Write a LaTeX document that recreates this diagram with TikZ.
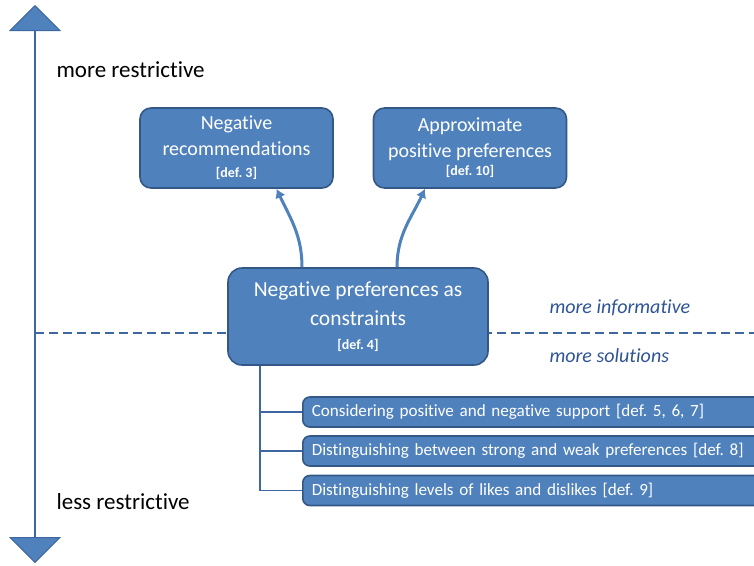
\documentclass[tikz,border=0pt]{standalone}
\usepackage{fontspec}
\setmainfont{Carlito}[Ligatures=NoCommon]
\usetikzlibrary{arrows.meta,positioning}
\definecolor{boxblue}{RGB}{79,129,189}
\definecolor{boxedge}{RGB}{52,88,134}
\definecolor{axisblue}{RGB}{62,102,160}
\definecolor{noteblue}{RGB}{47,84,150}
\newcommand{\defnotefont}{\fontsize{14}{16}\selectfont\bfseries}
\frenchspacing

\begin{document}
\begin{tikzpicture}[x=1pt, y=-1pt,
    topbox/.style={rounded corners=11pt, draw=boxedge, fill=boxblue, line width=1.6pt, text=white, align=center, font=\fontsize{20}{26}\selectfont, minimum width=193pt, minimum height=80pt, inner sep=0pt},
    mainbox/.style={topbox, rounded corners=14pt, font=\fontsize{21.5}{29}\selectfont, minimum width=260pt, minimum height=97pt},
    listbox/.style={rounded corners=7pt, draw=boxedge, fill=boxblue, line width=1.6pt, text=white, anchor=west, font=\fontsize{17.1}{20}\selectfont, minimum width=470pt, minimum height=30pt, inner xsep=9pt, text width=452pt, align=left},
    sidenote/.style={anchor=west, text=noteblue, font=\fontsize{20}{22}\selectfont\itshape},
    axislabel/.style={anchor=west, font=\fontsize{23}{26}\selectfont},
    upflow/.style={draw=boxblue, line width=3pt, -{Latex[length=9pt, width=11pt]}},
    treeline/.style={draw=axisblue, line width=1.5pt}
  ]
  \useasboundingbox (0,0) rectangle (754,565);
  \clip (0,0) rectangle (754,565);

  % restrictiveness axis
  \coordinate (axtop) at (35,5);
  \coordinate (axbot) at (35,563);
  \draw[axisblue, line width=2.6pt,
    {Triangle[length=26pt, width=52pt, fill=boxblue, line width=1pt]}-{Triangle[length=26pt, width=52pt, fill=boxblue, line width=1pt]}]
    (axtop) -- (axbot);
  \node[axislabel] (mr) at (53,70) {more restrictive};
  \node[axislabel] (lr) at (53,502) {less restrictive};

  % dividing line
  \coordinate (divL) at (35,333);
  \coordinate (divR) at (754,333);
  \draw[axisblue, line width=1.5pt, dash pattern=on 9pt off 5pt] (divL) -- (divR);
  \node[sidenote] (inf) at (546,308) {more informative};
  \node[sidenote] (sol) at (546,356) {more solutions};

  % upper boxes
  \node[topbox] (negrec) at (236.5,148) {Negative\\recommendations\\[-4pt]{\defnotefont[def. 3]}};
  \node[topbox] (apprx) at (470,148) {Approximate\\positive preferences\\[-8pt]{\defnotefont[def. 10]}};

  % central box
  \node[mainbox] (negcon) at (358,316.5) {Negative preferences as\\constraints\\[-5pt]{\defnotefont[def. 4]}};

  \draw[upflow] ([xshift=-56pt]negcon.north) to[out=90, in=-65] ([xshift=40pt]negrec.south);
  \draw[upflow] ([xshift=39pt]negcon.north) to[out=90, in=-115] ([xshift=-45pt]apprx.south);

  % refinements
  \node[listbox] (supp) at (302,412) {Considering positive and negative support [def. 5, 6, 7]};
  \node[listbox] (strw) at (302,451) {Distinguishing between strong and weak preferences [def. 8]};
  \node[listbox] (lvls) at (302,490.5) {Distinguishing levels of likes and dislikes [def. 9]};

  \draw[treeline] ([xshift=33pt]negcon.south west) |- (supp.west);
  \draw[treeline] ([xshift=33pt]negcon.south west) |- (strw.west);
  \draw[treeline] ([xshift=33pt]negcon.south west) |- (lvls.west);
\end{tikzpicture}
\end{document}
